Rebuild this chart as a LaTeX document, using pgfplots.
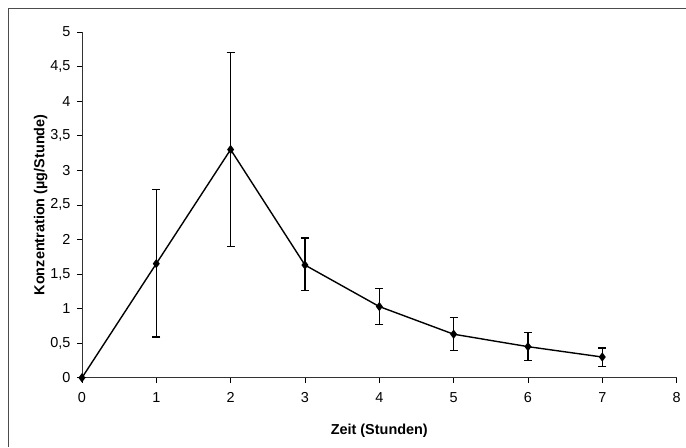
\documentclass[border=0pt]{standalone}
\usepackage{fontspec}
\setmainfont{Liberation Sans}
\usepackage{pgfplots}
\pgfplotsset{compat=1.18}
\usepackage{pgfplotstable}
\pgfplotstableread{
x y ep em
0 0 0 0
1 1.65 1.07 1.06
2 3.30 1.40 1.40
3 1.63 0.39 0.37
4 1.03 0.26 0.26
5 0.63 0.24 0.23
6 0.45 0.21 0.20
7 0.30 0.13 0.14
}\data
\begin{document}
\begin{tikzpicture}[x=1bp,y=1bp]
\path (0,0) rectangle (686,447);
\draw[line width=0.8bp, black!70] (8,0) -- (8,439) -- (686,439);
\begin{axis}[
  at={(82bp,69bp)}, anchor=south west,
  scale only axis, width=595bp, height=346bp,
  xmin=0, xmax=8, ymin=0, ymax=5,
  xtick={0,...,8}, ytick={0,0.5,...,5},
  axis x line=bottom, axis y line=left,
  axis line style={-, line width=0.7bp, black!80},
  tick align=outside, major tick length=5bp,
  tick style={line width=0.6bp, black},
  /pgf/number format/assume math mode=true,
  /pgf/number format/use comma,
  yticklabel style={/pgf/number format/fixed, xshift=-3bp},
  xticklabel style={yshift=-6bp},
  ticklabel style={font=\fontsize{14.5}{16}\selectfont},
  xlabel={\textbf{Zeit (Stunden)}},
  ylabel={\textbf{Konzentration (µg/Stunde)}},
  label style={font=\fontsize{14.5}{16}\selectfont},
  xlabel style={yshift=-15bp},
  ylabel style={yshift=-4bp},
  clip=false,
]
\addplot[black, line width=1.4bp, mark=diamond*, mark size=3.5bp,
  mark options={solid, fill=black},
  error bars/.cd, y dir=both, y explicit,
  error bar style={line width=1.2bp, black},
  error mark options={rotate=90, mark size=4bp, line width=1.2bp, black}]
  table[x=x, y=y, y error plus=ep, y error minus=em] {\data};
\end{axis}
\end{tikzpicture}
\end{document}
